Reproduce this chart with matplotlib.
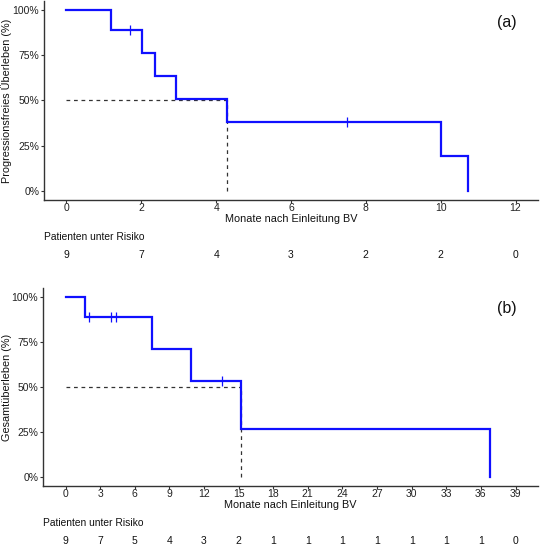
import matplotlib
matplotlib.use("Agg")
import matplotlib.pyplot as plt
import matplotlib.transforms as mtransforms

plt.rcParams['font.family'] = ['Liberation Sans', 'DejaVu Sans']

# --- (a) progression-free survival ---
pfs_times = [0, 1.2, 2.03, 2.37, 2.93, 4.3, 10.0, 10.73]
pfs_surv = [100, 88.9, 76.2, 63.5, 50.8, 38.1, 19.05, 0]
pfs_censor_t = [1.7, 7.5]
pfs_censor_s = [88.9, 38.1]
pfs_median = 4.3
pfs_ticks = [0, 2, 4, 6, 8, 10, 12]
pfs_risk = [9, 7, 4, 3, 2, 2, 0]

# --- (b) overall survival ---
os_times = [0, 1.7, 7.5, 10.85, 15.25, 36.8]
os_surv = [100, 88.9, 71.1, 53.3, 26.7, 0]
os_censor_t = [2.05, 3.9, 4.4, 13.6]
os_censor_s = [88.9, 88.9, 88.9, 53.3]
os_median = 15.25
os_ticks = [0, 3, 6, 9, 12, 15, 18, 21, 24, 27, 30, 33, 36, 39]
os_risk = [9, 7, 5, 4, 3, 2, 1, 1, 1, 1, 1, 1, 1, 0]

W, H = 540, 547
fig = plt.figure(figsize=(W / 100, H / 100), dpi=100)


def px_axes(left, top, right, bottom):
    return fig.add_axes([left / W, 1 - bottom / H, (right - left) / W, (bottom - top) / H])


def km_panel(ax, box, times, surv, ct, cs, median, ticks, risk, ylabel, tag):
    left, top, right, bottom = box
    h = bottom - top
    # step curve
    xs, ys = [], []
    for i, (t, s) in enumerate(zip(times, surv)):
        if i > 0:
            xs.append(t)
            ys.append(surv[i - 1])
        xs.append(t)
        ys.append(s)
    ax.plot([0, median], [50, 50], color="#333333", lw=0.9, ls=(0, (3, 3)), zorder=1)
    ax.plot([median, median], [0, 50], color="#333333", lw=0.9, ls=(0, (3, 3)), zorder=1)
    ax.plot(xs, ys, color="#1010ff", lw=1.6, solid_joinstyle="miter", zorder=3)
    ax.plot(ct, cs, ls="none", marker="|", ms=7, mew=0.9, color="#1010ff", zorder=3)

    span = ticks[-1] - ticks[0]
    ax.set_xlim(ticks[0] - 0.05 * span, ticks[-1] + 0.05 * span)
    ax.set_ylim(-5, 105)
    ax.set_xticks(ticks)
    ax.set_yticks([0, 25, 50, 75, 100])
    ax.set_yticklabels(["0%", "25%", "50%", "75%", "100%"])
    for sp in ["top", "right"]:
        ax.spines[sp].set_visible(False)
    for sp in ["left", "bottom"]:
        ax.spines[sp].set_color("#333333")
        ax.spines[sp].set_linewidth(1.0)
    ax.tick_params(axis="both", labelsize=7.5, length=2, width=0.8, color="#333333",
                   labelcolor="#222222")
    ax.tick_params(axis="x", pad=0.3)
    ax.tick_params(axis="y", pad=1.5)

    fig.text(7 / W, 1 - (top + h / 2) / H, ylabel, rotation=90, ha="center", va="center",
             fontsize=7.8, color="#111111")

    trans = mtransforms.blended_transform_factory(ax.transData, ax.transAxes)
    ax.text(0.5, -19.5 / h, "Monate nach Einleitung BV", transform=ax.transAxes,
            ha="center", va="center", fontsize=7.8, color="#111111")
    ax.text(0.0, -36.5 / h, "Patienten unter Risiko", transform=ax.transAxes,
            ha="left", va="center", fontsize=7.4, color="#111111")
    for t, n in zip(ticks, risk):
        ax.text(t, -55 / h, str(n), transform=trans, ha="center", va="center",
                fontsize=7.5, color="#111111")
    ax.text((507 - left) / (right - left), 1 - 21 / h, tag, transform=ax.transAxes,
            ha="center", va="center", fontsize=11.5, color="#111111")


box1 = (44, 1, 538, 200)
ax1 = px_axes(*box1)
km_panel(ax1, box1, pfs_times, pfs_surv, pfs_censor_t, pfs_censor_s, pfs_median,
         pfs_ticks, pfs_risk, "Progressionsfreies Überleben (%)", "(a)")

box2 = (43, 288, 538, 486)
ax2 = px_axes(*box2)
km_panel(ax2, box2, os_times, os_surv, os_censor_t, os_censor_s, os_median,
         os_ticks, os_risk, "Gesamtüberleben (%)", "(b)")

fig.savefig("out.png", dpi=100)
